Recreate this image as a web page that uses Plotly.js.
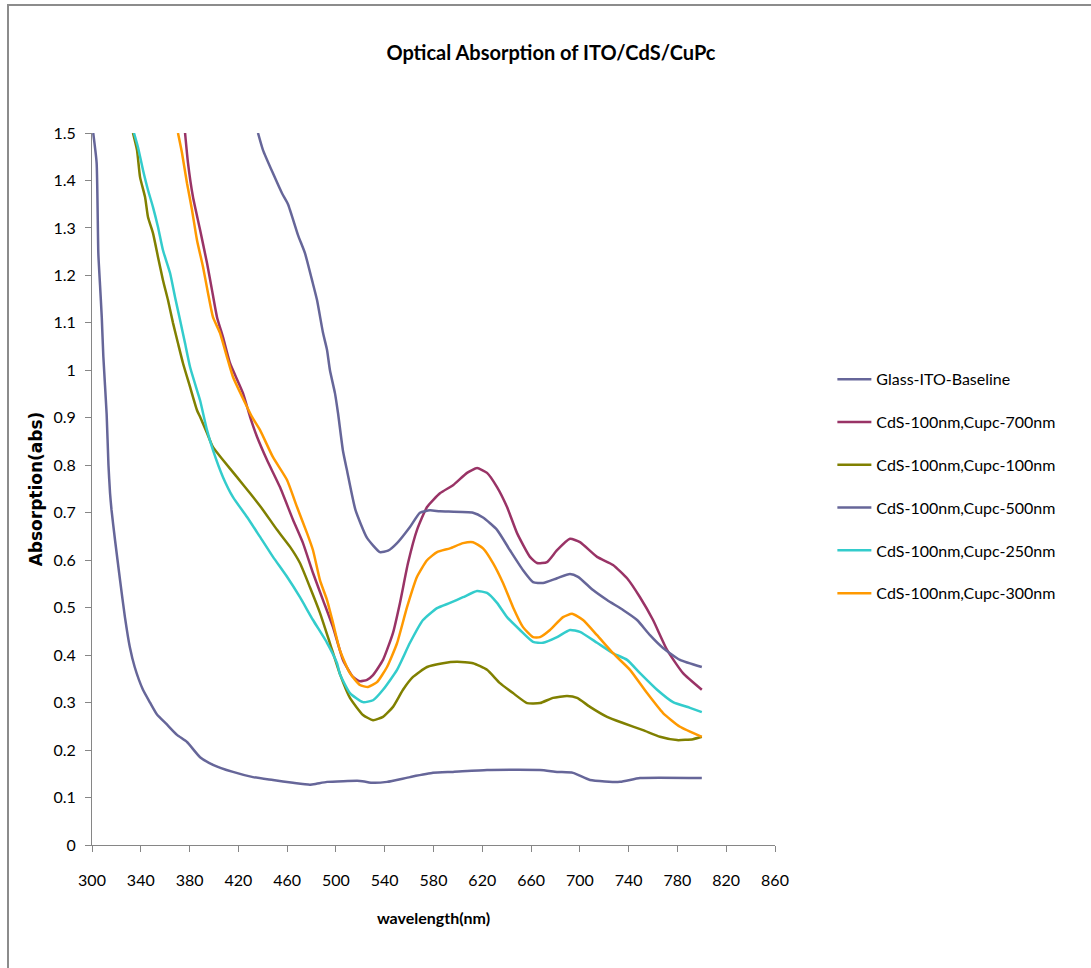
<!DOCTYPE html>
<html>
<head>
<meta charset="utf-8">
<script src="https://cdn.plot.ly/plotly-3.0.1.min.js"></script>
<style>
  html, body { margin: 0; padding: 0; background: #fff; overflow: hidden; }
  #frame { position: absolute; left: 7px; top: 4px; width: 1200px; height: 1100px;
           border-left: 2px solid #8c8c8c; border-top: 2px solid #8c8c8c; pointer-events: none; }
  #chart { position: absolute; left: 0; top: 0; width: 1091px; height: 968px; }
</style>
</head>
<body>
<div id="chart"></div>
<div id="frame"></div>
<script>
// Absorption spectra (wavelength in nm, absorbance in abs units)
const baselineNm  = [301,303.8,305.2,306.6,308,309.3,312,313.5,314.8,316,318.9,323,327,331,335,341.8,347.6,353.3,361,369.7,377.9,388.6,399.2,415.6,432,448.4,464.8,478.7,484,492.7,519.7,530.4,541.9,560.7,579.6,596,623.9,667.3,681.3,694.4,708.3,732.9,749.3,800];
const baselineAbs = [1.5,1.437,1.246,1.179,1.112,1.029,0.908,0.8,0.741,0.706,0.642,0.558,0.48,0.417,0.375,0.327,0.3,0.275,0.255,0.232,0.217,0.185,0.169,0.154,0.143,0.137,0.131,0.127,0.129,0.133,0.135,0.131,0.133,0.143,0.152,0.154,0.158,0.158,0.154,0.152,0.137,0.133,0.141,0.141];

const cupc700Nm  = [376.3,378.7,382.8,388.6,394.3,398.4,402.5,407.4,413.2,423.8,429.6,435.3,443.5,454.1,464.8,473,481.2,489.4,497.6,505.8,514,519.7,525.5,530.4,538.6,546.8,552.5,559.1,566.5,574.7,585.3,596,607.5,615.7,623.9,632.1,640.3,648.5,659.1,664.9,673.1,681.3,691.9,700.1,714.1,727.2,738.7,749.3,760,771.5,784.6,800];
const cupc700Abs = [1.5,1.437,1.365,1.296,1.226,1.169,1.112,1.07,1.015,0.952,0.902,0.86,0.811,0.754,0.685,0.636,0.573,0.516,0.459,0.39,0.354,0.345,0.348,0.358,0.39,0.447,0.51,0.594,0.664,0.712,0.741,0.758,0.784,0.794,0.784,0.754,0.712,0.657,0.607,0.594,0.596,0.621,0.645,0.638,0.607,0.59,0.562,0.522,0.474,0.411,0.362,0.327];

const cupc100Nm  = [333.6,336.9,339.4,343.5,345.9,350,354.1,358.2,362.3,366.4,370.5,374.6,380.4,386.1,388.6,394.3,399.2,407.4,418.9,429.6,440.2,451.7,462.4,470.5,478.7,486.9,495.1,503.3,511.5,522.2,530.4,538.6,546.8,555,563.2,574.7,587.8,599.3,612.4,623.9,634.5,645.2,656.7,667.3,678,689.5,697.7,708.3,722.3,735.4,751.8,765.7,779.7,792.8,800];
const cupc100Abs = [1.5,1.464,1.407,1.365,1.323,1.289,1.239,1.19,1.148,1.1,1.057,1.015,0.965,0.916,0.902,0.868,0.838,0.811,0.775,0.741,0.706,0.664,0.628,0.594,0.543,0.489,0.425,0.36,0.31,0.274,0.263,0.27,0.291,0.327,0.354,0.375,0.383,0.386,0.383,0.369,0.341,0.32,0.299,0.299,0.31,0.314,0.31,0.291,0.27,0.257,0.242,0.228,0.221,0.223,0.228];

const cupc500Nm  = [436.1,440.2,448.4,455.8,460.7,468.9,474.6,480.4,484.5,489.4,492.7,495.1,499.2,501.7,505.8,509,516,525.5,536.1,542.7,550.1,560.7,568.9,577.1,585.3,612.4,620.6,632.1,642.7,653.4,661.6,669.8,681.3,691.9,698.5,710.8,722.3,735.4,746.9,757.5,768.2,782.1,800];
const cupc500Abs = [1.5,1.464,1.415,1.373,1.35,1.285,1.247,1.19,1.148,1.079,1.043,1.0,0.952,0.91,0.83,0.79,0.706,0.647,0.617,0.62,0.636,0.67,0.7,0.705,0.703,0.7,0.69,0.664,0.621,0.579,0.554,0.552,0.562,0.571,0.565,0.537,0.516,0.495,0.474,0.442,0.415,0.39,0.375];

const cupc250Nm  = [334.4,337.7,341.8,345.9,350,354.1,358.2,364,368.1,372.2,376.3,380.4,386.1,388.6,394.3,399.2,407.4,415.6,427.1,437.8,448.4,459.9,470.5,481.2,492.7,500.9,503.3,511.5,522.2,530.4,538.6,550.1,560.7,571.4,582.9,593.5,604.2,615.7,623.9,632.1,640.3,650.9,661.6,669.8,681.3,691.9,700.1,714.1,727.2,738.7,749.3,763.3,776.4,790.3,800];
const cupc250Abs = [1.5,1.47,1.422,1.38,1.344,1.302,1.253,1.205,1.154,1.106,1.057,1.007,0.958,0.937,0.874,0.832,0.775,0.733,0.691,0.649,0.607,0.565,0.522,0.474,0.426,0.383,0.36,0.32,0.301,0.305,0.327,0.369,0.426,0.474,0.499,0.51,0.522,0.535,0.531,0.51,0.48,0.453,0.428,0.426,0.438,0.453,0.449,0.426,0.404,0.39,0.362,0.327,0.301,0.289,0.28];

const cupc300Nm  = [370.5,373.8,377.9,382,386.1,391,395.1,399.2,404.9,410.7,415.6,423,431.2,437.8,448.4,459.9,468.1,476.3,481.2,486.9,492.7,497.6,503.3,511.5,519.7,526.3,533.7,541.9,550.1,558.3,566.5,574.7,582.9,593.5,604.2,612.4,620.6,628.8,637,645.2,653.4,661.6,667.3,675.5,686.2,693.6,702.6,714.1,727.2,741.1,755.1,768.2,782.1,800];
const cupc300Abs = [1.5,1.458,1.394,1.338,1.274,1.218,1.163,1.112,1.079,1.028,0.986,0.945,0.902,0.874,0.817,0.769,0.712,0.657,0.621,0.558,0.516,0.468,0.41,0.362,0.337,0.333,0.343,0.375,0.425,0.501,0.565,0.6,0.617,0.625,0.636,0.638,0.625,0.594,0.552,0.501,0.459,0.438,0.438,0.453,0.48,0.487,0.474,0.442,0.404,0.369,0.32,0.278,0.249,0.228];

const seriesNames  = ['Glass-ITO-Baseline','CdS-100nm,Cupc-700nm','CdS-100nm,Cupc-100nm','CdS-100nm,Cupc-500nm','CdS-100nm,Cupc-250nm','CdS-100nm,Cupc-300nm'];
const seriesX      = [baselineNm, cupc700Nm, cupc100Nm, cupc500Nm, cupc250Nm, cupc300Nm];
const seriesY      = [baselineAbs, cupc700Abs, cupc100Abs, cupc500Abs, cupc250Abs, cupc300Abs];
const seriesColors = ['#666699','#993366','#808000','#666699','#33CCCC','#FF9900'];

const traces = seriesNames.map((name, i) => ({
  type: 'scatter',
  mode: 'lines',
  name: name,
  x: seriesX[i],
  y: seriesY[i],
  legendgroup: 'g' + i,
  line: { color: seriesColors[i], width: 2.5, shape: 'spline', smoothing: 0.5 },
  hoverinfo: 'x+y+name'
}));

const tickFont = { family: 'Lato, "Open Sans", sans-serif', size: 16, color: '#000' };

const layout = {
  width: 1091,
  height: 968,
  margin: { l: 92, r: 316, t: 133, b: 123, pad: 0 },
  paper_bgcolor: '#fff',
  plot_bgcolor: '#fff',
  title: {
    text: '<b>Optical Absorption of ITO/CdS/CuPc</b>',
    font: { family: 'Lato, sans-serif', size: 20, color: '#000' },
    x: 0.505, xanchor: 'center',
    y: 0.945, yanchor: 'middle'
  },
  xaxis: {
    range: [300, 860],
    tick0: 300, dtick: 40,
    showgrid: false, zeroline: false,
    showline: true, linecolor: '#868686', linewidth: 1,
    ticks: 'outside', ticklen: 6, tickcolor: '#868686',
    tickfont: tickFont,
    ticklabelstandoff: 15,
    title: {
      text: '<b>wavelength(nm)</b>',
      font: { family: 'Lato, sans-serif', size: 16, color: '#000' },
      standoff: 24
    }
  },
  yaxis: {
    range: [0, 1.5],
    tick0: 0, dtick: 0.1,
    showgrid: false, zeroline: false,
    showline: true, linecolor: '#868686', linewidth: 1,
    ticks: 'outside', ticklen: 6, tickcolor: '#868686',
    tickfont: tickFont,
    ticklabelstandoff: 6,
    title: {
      text: '<b>Absorption(abs)</b>',
      font: { family: '"DejaVu Sans", sans-serif', size: 17, color: '#000' },
      standoff: 6
    }
  },
  showlegend: true,
  legend: {
    x: 1.084, xanchor: 'left',
    y: 0.678, yanchor: 'top',
    font: { family: 'Lato, sans-serif', size: 16, color: '#000' },
    tracegroupgap: 19,
    itemwidth: 34,
    bgcolor: 'rgba(0,0,0,0)'
  }
};

Plotly.newPlot('chart', traces, layout, { displayModeBar: false, staticPlot: true });
</script>
</body>
</html>
